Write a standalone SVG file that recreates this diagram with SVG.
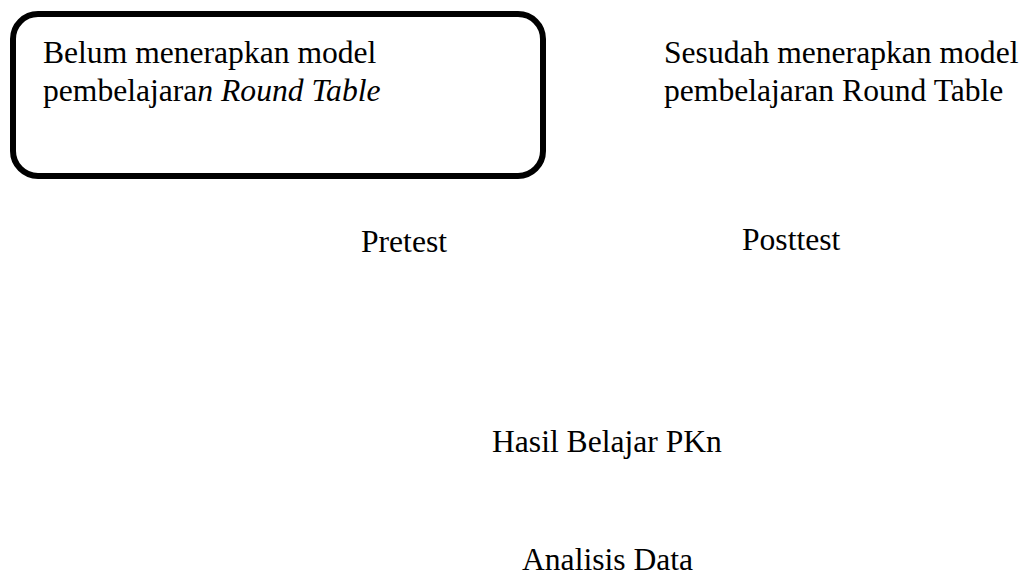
<svg xmlns="http://www.w3.org/2000/svg" width="1025" height="576" viewBox="0 0 1025 576">
<style>
.t{font-family:"Liberation Serif","Times New Roman",serif;font-size:31.6px;fill:#000}
.box{fill:#fff;stroke:#000;stroke-width:6}
</style>
<rect width="1025" height="576" fill="#fff"/>
<g id="connectors"></g>
<g id="before">
<rect class="box" x="13" y="14" width="530" height="162" rx="25" ry="25"/>
<text class="t" x="43" y="63">Belum menerapkan model</text>
<text class="t" x="43" y="101">pembelajara<tspan font-style="italic">n Round Table</tspan></text>
</g>
<g id="after">
<text class="t" x="664" y="63">Sesudah menerapkan model</text>
<text class="t" x="664" y="101">pembelajaran Round Table</text>
</g>
<g id="pretest"><text class="t" x="361" y="252">Pretest</text></g>
<g id="posttest"><text class="t" x="742" y="250">Posttest</text></g>
<g id="hasil"><text class="t" x="492" y="452">Hasil Belajar PKn</text></g>
<g id="analisis"><text class="t" x="522" y="570">Analisis Data</text></g>
</svg>
